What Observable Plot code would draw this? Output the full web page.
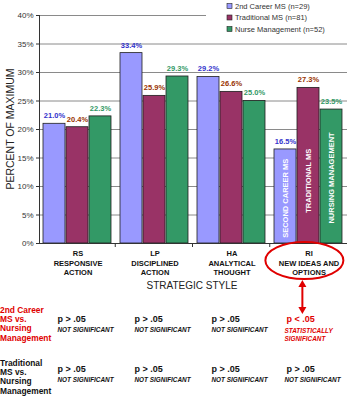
<!DOCTYPE html>
<html><head><meta charset="utf-8">
<script src="https://cdn.jsdelivr.net/npm/d3@7"></script>
<script src="https://cdn.jsdelivr.net/npm/@observablehq/plot@0.6"></script>
<style>
body{margin:0;background:#fff;}
#chart{position:relative;width:347px;height:400px;overflow:hidden}
</style></head><body><div id="chart"></div>
<script>
const categories = ["RS", "LP", "HA", "RI"];
const categoryLabels = ["RS\nRESPONSIVE\nACTION", "LP\nDISCIPLINED\nACTION", "HA\nANALYTICAL\nTHOUGHT", "RI\nNEW IDEAS AND\nOPTIONS"];
const series = ["2nd Career MS (n=29)", "Traditional MS (n=81)", "Nurse Management (n=52)"];
const secondCareer = [21.0, 33.4, 29.2, 16.5];
const traditional = [20.4, 25.9, 26.6, 27.3];
const nurseMgmt = [22.3, 29.3, 25.0, 23.5];
const insideLabels = ["SECOND CAREER MS", "TRADITIONAL MS", "NURSING MANAGEMENT"];
const xTitle = "STRATEGIC STYLE";
const yTitle = "PERCENT OF MAXIMUM";
const row1Label = ["2nd Career", "MS vs.", "Nursing", "Management"];
const row1P = ["p > .05", "p > .05", "p > .05", "p < .05"];
const row1Sig = ["NOT SIGNIFICANT", "NOT SIGNIFICANT", "NOT SIGNIFICANT", "STATISTICALLY\nSIGNIFICANT"];
const row2Label = ["Traditional", "MS vs.", "Nursing", "Management"];
const row2P = ["p > .05", "p > .05", "p > .05", "p > .05"];
const row2Sig = ["NOT SIGNIFICANT", "NOT SIGNIFICANT", "NOT SIGNIFICANT", "NOT SIGNIFICANT"];

const FONT = "'Liberation Sans', Arial, Helvetica, sans-serif";
const barColors = ["#9999ff", "#993366", "#339966"];
const labelColors = ["#3333cc", "#993300", "#339966"];
const values = [secondCareer, traditional, nurseMgmt];

const data = categories.flatMap((c, i) => series.map((s, j) => ({category: c, series: s, si: j, value: values[j][i]})));
const catData = categories.map((c, i) => ({category: c, label: categoryLabels[i], i,
  p1: row1P[i], s1: row1Sig[i], p2: row2P[i], s2: row2Sig[i]}));
const insideData = series.map((s, j) => ({category: "RI", series: s, text: insideLabels[j], j}));
const insideAnchor = [1.0, 5.4, 3.5];

const tbl = (filter, field, dy, dx, opts) => Plot.text(catData.filter(filter), {
  fx: "category", text: field, frameAnchor: "bottom-left", dx, dy, textAnchor: "start",
  lineAnchor: "top", fontFamily: FONT, ...opts});

const sigStyle = {fontSize: 6.4, fontWeight: "bold", fontStyle: "italic"};
const pStyle = {fontSize: 9, fontWeight: "bold"};

const marks = [
  Plot.barY(data, {fx: "category", x: "series", y: "value", fill: "series", stroke: "#1e1e1e", strokeWidth: 0.8}),
  ...series.map((s, j) => Plot.text(data.filter(d => d.si === j), {
    fx: "category", x: "series", y: "value", text: d => d.value.toFixed(1) + "%", dy: -8,
    fill: labelColors[j], fontWeight: "bold", fontSize: 7.5, fontFamily: FONT})),
  Plot.text(insideData, {fx: "category", x: "series", y: d => insideAnchor[d.j], text: "text",
    rotate: -90, textAnchor: "start", fill: "white", fontWeight: "bold", fontSize: 7.5, fontFamily: FONT}),
  Plot.ruleY([0], {stroke: "#333"}),
  Plot.text(catData, {fx: "category", text: "label", frameAnchor: "bottom", dy: 6, lineAnchor: "top",
    lineHeight: 1.27, fontWeight: "bold", fontSize: 7.5, fontFamily: FONT, fill: "#111"}),
  // table row 1
  tbl(d => d.i < 3, "p1", 72, 18, {...pStyle, fill: "#111"}),
  tbl(d => d.i < 3, "s1", 84, 18, {...sigStyle, fill: "#111"}),
  tbl(d => d.i === 3, "p1", 72, 16, {...pStyle, fill: "#e00000"}),
  tbl(d => d.i === 3, "s1", 84, 14, {...sigStyle, fill: "#e00000", lineHeight: 1.2}),
  // table row 2
  tbl(d => d.i < 3, "p2", 122, 18, {...pStyle, fill: "#111"}),
  tbl(d => d.i < 3, "s2", 134, 18, {...sigStyle, fill: "#111"}),
  tbl(d => d.i === 3, "p2", 122, 16, {...pStyle, fill: "#111"}),
  tbl(d => d.i === 3, "s2", 134, 14, {...sigStyle, fill: "#111"})
];

const plot = Plot.plot({
  width: 347, height: 400,
  marginLeft: 38, marginRight: 0, marginTop: 15, marginBottom: 157,
  style: {fontFamily: FONT, fontSize: "8px", color: "#333", background: "#fff", overflow: "visible"},
  fx: {domain: categories, padding: 0, axis: null},
  x: {domain: series, paddingInner: 0.04, paddingOuter: 0.18, axis: null},
  y: {domain: [0, 40], ticks: 8, tickFormat: d => d + "%", grid: true, line: true, label: null, tickSize: 3, tickPadding: 3},
  color: {domain: series, range: barColors},
  marks
});
document.getElementById("chart").appendChild(plot);

// annotations
const svg = d3.select(plot);
svg.selectAll("[aria-label^='y-grid'] line, [aria-label='y-grid'] line").attr("stroke", "#8a8a8a").attr("stroke-opacity", 1);
const fxs = plot.scale("fx");
const fx = d3.scaleBand().domain(categories).range(fxs && fxs.range ? fxs.range : [38, 347]).padding(0);
const y0 = 243;
const g = svg.append("g").attr("font-family", FONT).attr("text-anchor", "start");
// boundary ticks
categories.forEach((c, i) => { if (i > 0) g.append("line").attr("x1", fx(c)).attr("x2", fx(c)).attr("y1", y0).attr("y2", y0 + 4).attr("stroke", "#333"); });
// legend
g.append("rect").attr("x", 206).attr("y", 0).attr("width", 141).attr("height", 37).attr("fill", "white");
series.forEach((s, j) => {
  const yy = 6 + j * 11.5;
  g.append("rect").attr("x", 227).attr("y", yy - 2.5).attr("width", 5).attr("height", 5).attr("fill", barColors[j]).attr("stroke", "#222").attr("stroke-width", 0.6);
  g.append("text").attr("x", 235).attr("y", yy).attr("dy", "0.35em").attr("text-anchor", "start").attr("font-size", 7.5).attr("fill", "#333").text(s);
});
// titles
g.append("text").attr("x", 192).attr("y", 285).attr("dy", "0.35em").attr("text-anchor", "middle").attr("font-size", 10).attr("fill", "#222").text(xTitle);
g.append("text").attr("transform", "translate(10,129) rotate(-90)").attr("dy", "0.35em").attr("text-anchor", "middle").attr("font-size", 10.5).attr("fill", "#222").text(yTitle);
// row labels
row1Label.forEach((t, k) => g.append("text").attr("x", 0).attr("y", 310 + k * 9.2).attr("dy", "0.35em").attr("text-anchor", "start").attr("font-size", 8.4).attr("font-weight", "bold").attr("fill", "#e00000").text(t));
row2Label.forEach((t, k) => g.append("text").attr("x", 0).attr("y", 363 + k * 9.2).attr("dy", "0.35em").attr("text-anchor", "start").attr("font-size", 8.4).attr("font-weight", "bold").attr("fill", "#111").text(t));
// red ellipse and arrow
const cx = fx("RI") + fx.bandwidth() / 2 - 4;
g.append("ellipse").attr("cx", cx).attr("cy", 260.5).attr("rx", 39).attr("ry", 18.5).attr("fill", "none").attr("stroke", "#e00000").attr("stroke-width", 2);
const ax = cx - 2;
g.append("line").attr("x1", ax).attr("x2", ax).attr("y1", 285).attr("y2", 309).attr("stroke", "#e00000").attr("stroke-width", 2);
g.append("path").attr("d", `M${ax - 4},${287} L${ax},${280} L${ax + 4},${287} Z`).attr("fill", "#e00000");
g.append("path").attr("d", `M${ax - 4},${307} L${ax},${314} L${ax + 4},${307} Z`).attr("fill", "#e00000");
</script></body></html>
